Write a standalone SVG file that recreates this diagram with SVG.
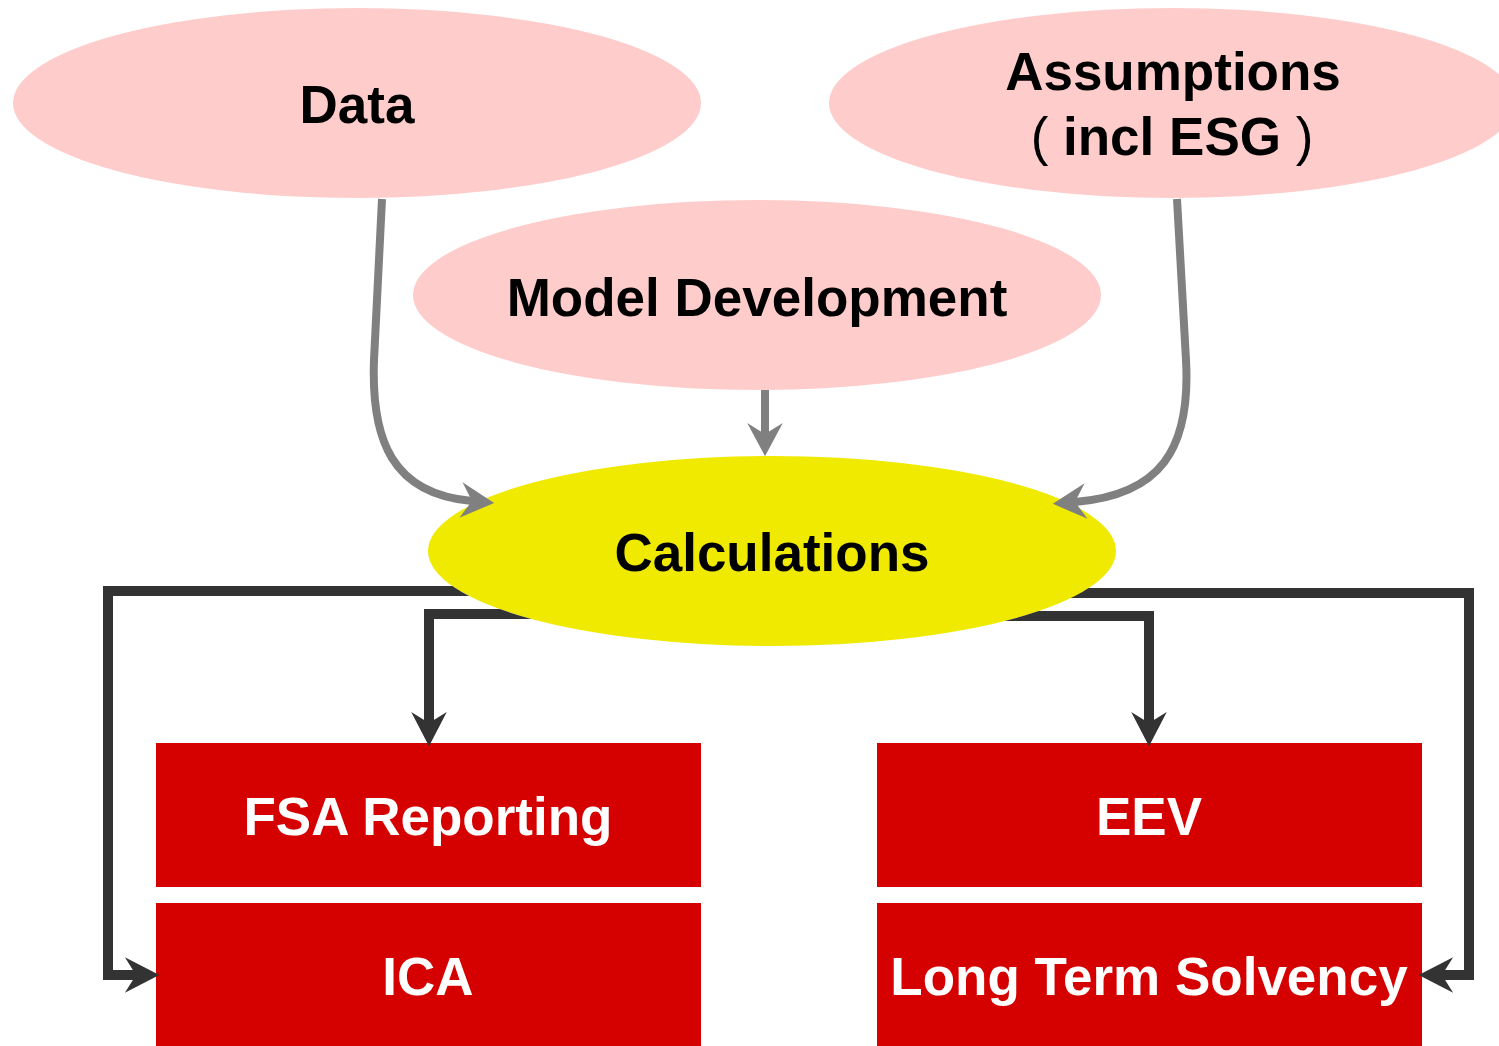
<svg xmlns="http://www.w3.org/2000/svg" width="1499" height="1046" viewBox="0 0 1499 1046">
<style>
.pink{fill:#FFCCCC}
.calc{fill:#EFEA00}
.box{fill:#D50000}
.lbl{font-family:"Liberation Sans",Arial,sans-serif;font-weight:700;font-size:53px;text-anchor:middle}
.dk{fill:#000}
.wh{fill:#fff}
.gray{fill:none;stroke:#808080;stroke-width:8}
.dark{fill:none;stroke:#333333;stroke-width:10;stroke-linejoin:miter}
</style>
<defs>
<marker id="ag" markerUnits="userSpaceOnUse" markerWidth="40" markerHeight="40" viewBox="-2 -18 36 36" refX="10" refY="0" orient="auto">
<path d="M0,-16 L30,0 L0,16 L10,0 Z" fill="#808080"/>
</marker>
<marker id="ad" markerUnits="userSpaceOnUse" markerWidth="40" markerHeight="40" viewBox="-2 -18 36 36" refX="10" refY="0" orient="auto">
<path d="M0,-16 L31,0 L0,16 L10,0 Z" fill="#333333"/>
</marker>
<mask id="notCalc" maskUnits="userSpaceOnUse" x="0" y="0" width="1499" height="1046">
<rect x="0" y="0" width="1499" height="1046" fill="#fff"/>
<ellipse cx="772" cy="551" rx="344" ry="95" fill="#000"/>
</mask>
</defs>
<g id="node-data">
<ellipse class="pink" cx="357" cy="103" rx="344" ry="95"/>
<text class="lbl dk" x="357" y="123">Data</text>
</g>
<g id="node-assumptions">
<ellipse class="pink" cx="1172" cy="103" rx="343" ry="95"/>
<text class="lbl dk" x="1173" y="90">Assumptions</text>
<text class="lbl dk" x="1172" y="155"><tspan font-weight="400">(</tspan> incl ESG <tspan font-weight="400">)</tspan></text>
</g>
<g id="node-model">
<ellipse class="pink" cx="757" cy="295" rx="344" ry="95"/>
<text class="lbl dk" x="757" y="316">Model Development</text>
</g>
<g id="node-calculations">
<ellipse class="calc" cx="772" cy="551" rx="344" ry="95"/>
<text class="lbl dk" x="772" y="571">Calculations</text>
</g>
<g id="node-fsa">
<rect class="box" x="156" y="743" width="545" height="144"/>
<text class="lbl wh" x="428" y="835">FSA Reporting</text>
</g>
<g id="node-ica">
<rect class="box" x="156" y="903" width="545" height="143"/>
<text class="lbl wh" x="428" y="995">ICA</text>
</g>
<g id="node-eev">
<rect class="box" x="877" y="743" width="545" height="144"/>
<text class="lbl wh" x="1149" y="835">EEV</text>
</g>
<g id="node-lts">
<rect class="box" x="877" y="903" width="545" height="143"/>
<text class="lbl wh" x="1149" y="995">Long Term Solvency</text>
</g>
<g id="connectors">
<path class="gray" d="M382,199 L374,360 C371,440 392,494 472,501" marker-end="url(#ag)"/>
<path class="gray" d="M1177,199 L1186,360 C1191,450 1160,495 1075,502" marker-end="url(#ag)"/>
<path class="gray" d="M765,390 L765,434" marker-end="url(#ag)"/>
<g mask="url(#notCalc)">
<path class="dark" d="M500,591 L108,591 L108,975 L136,975" marker-end="url(#ad)"/>
<path class="dark" d="M560,614 L429,614 L429,723" marker-end="url(#ad)"/>
<path class="dark" d="M990,616 L1149,616 L1149,723" marker-end="url(#ad)"/>
<path class="dark" d="M1050,593 L1469,593 L1469,975 L1442,975" marker-end="url(#ad)"/>
</g>
</g>
</svg>
